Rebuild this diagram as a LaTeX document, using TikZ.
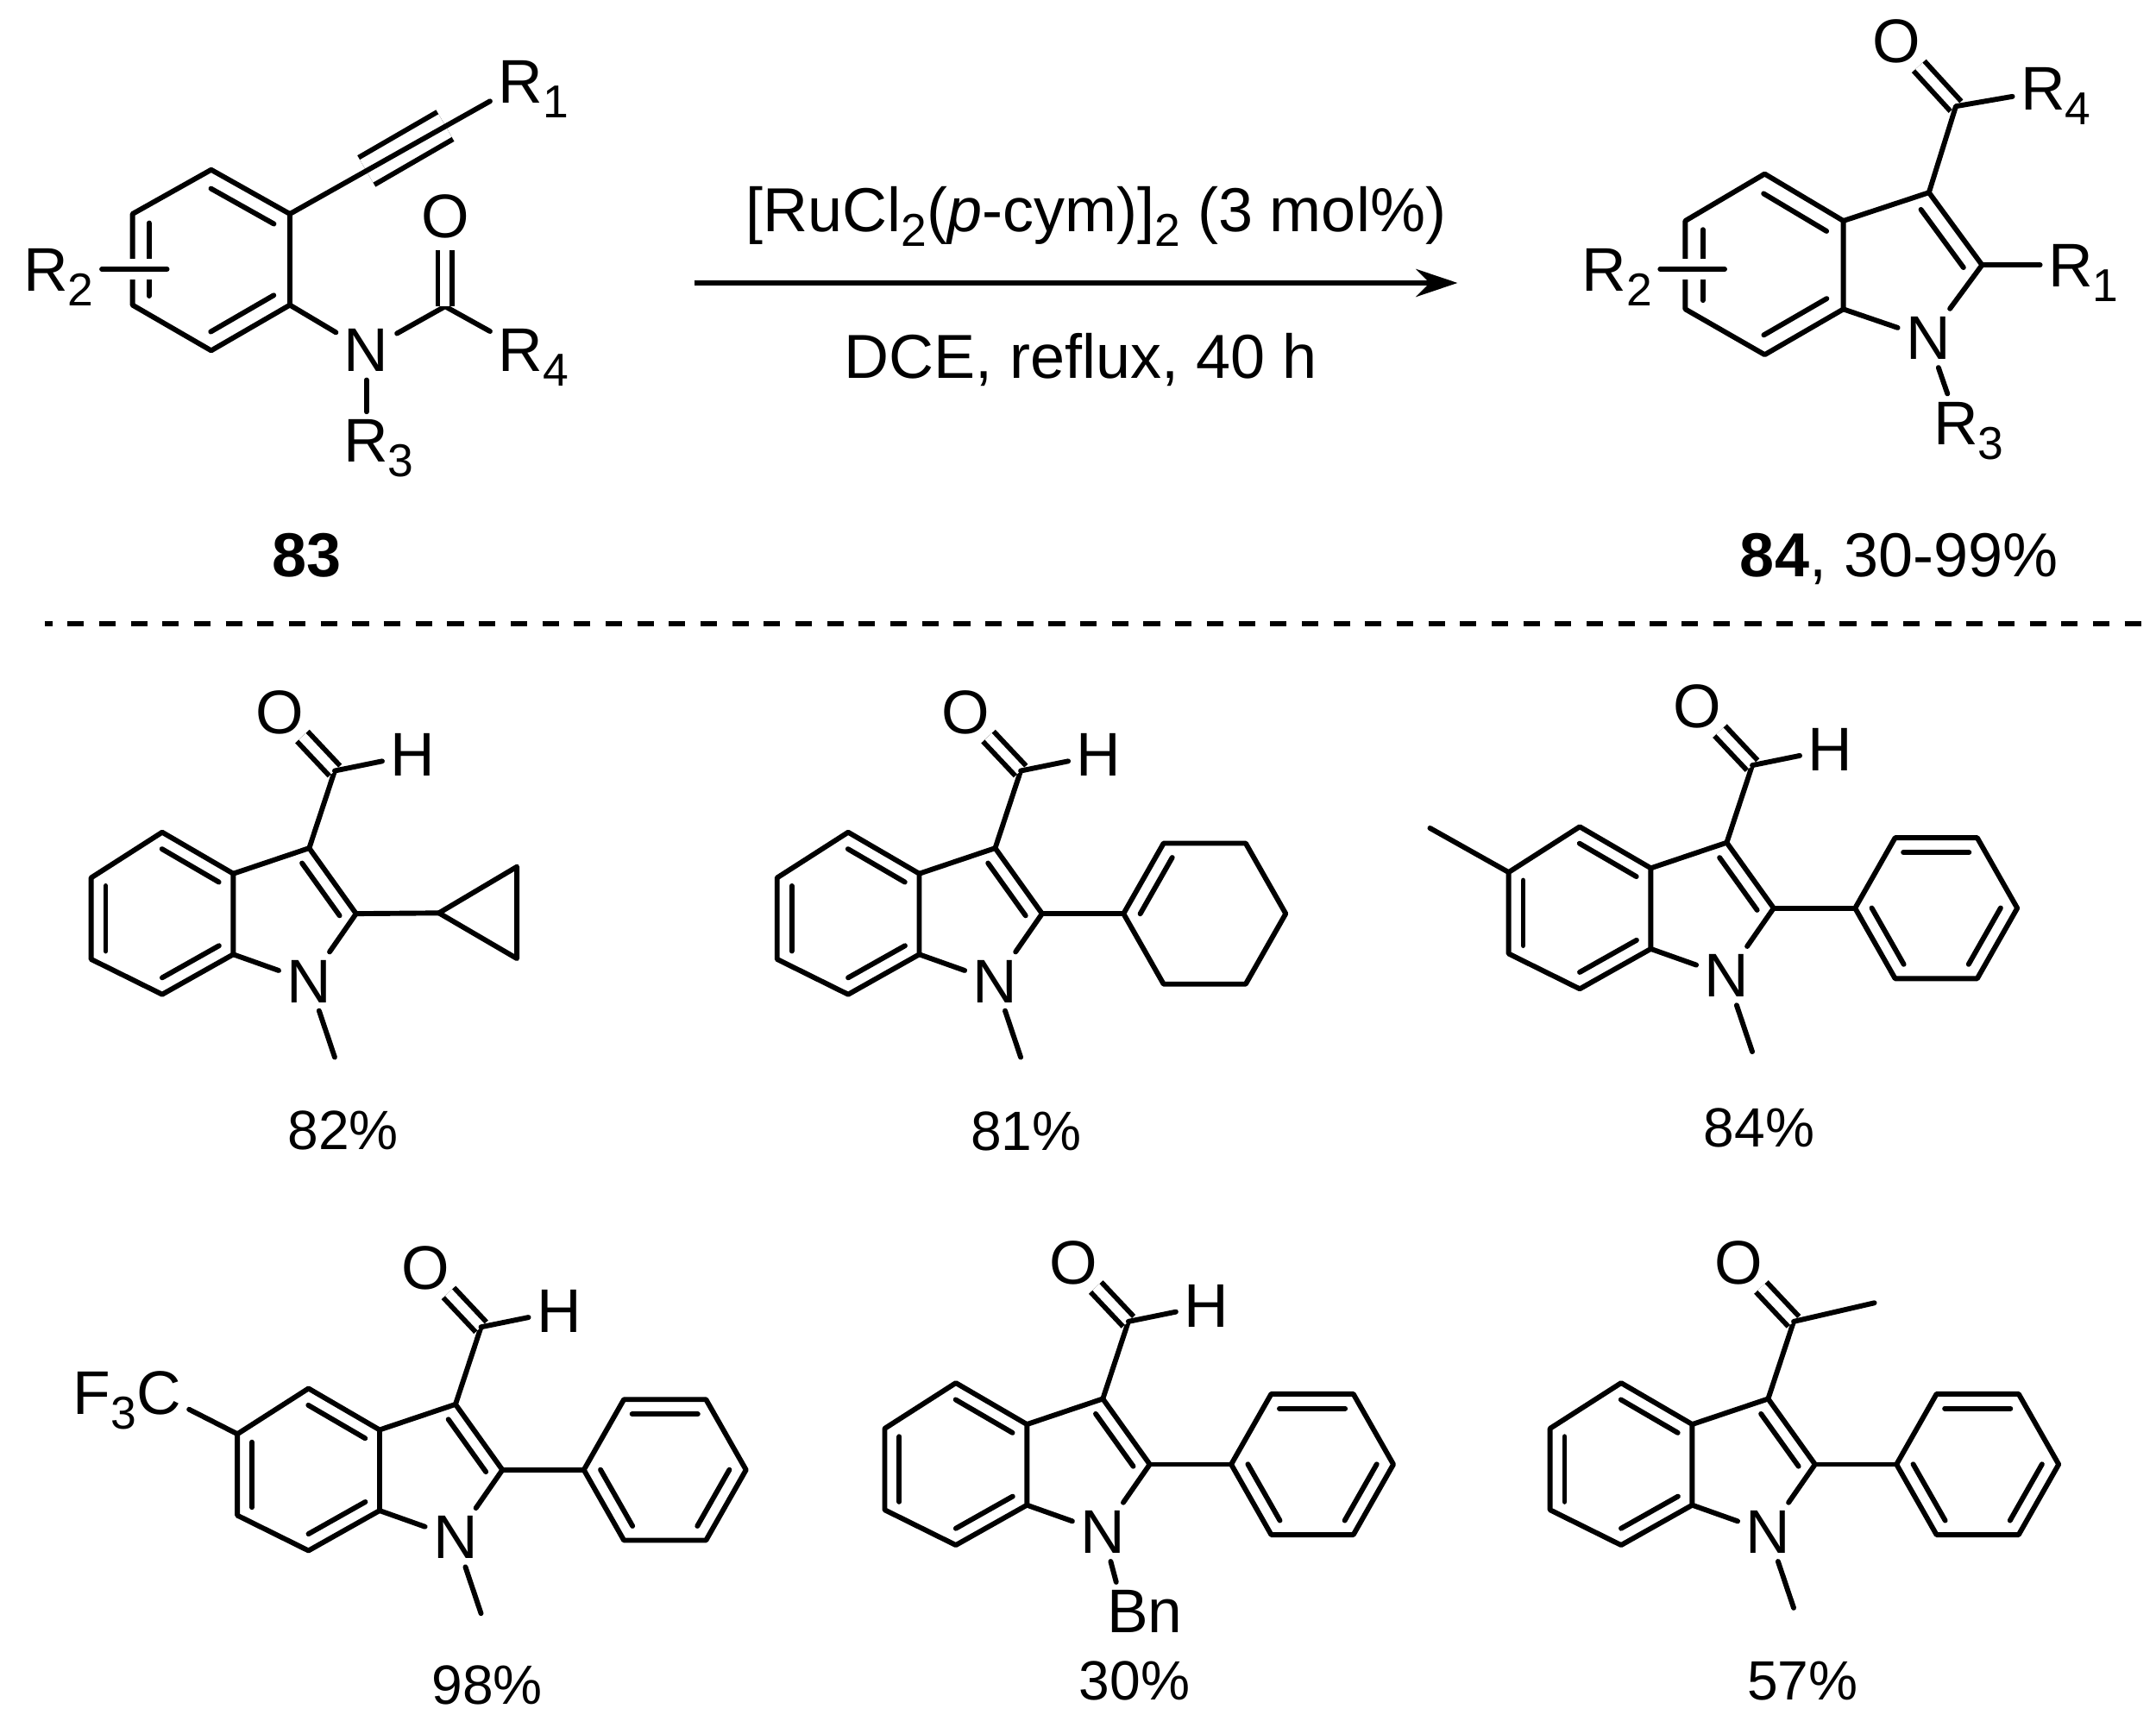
\documentclass[tikz,border=0pt]{standalone}
\usepackage{fontspec}
\setmainfont{Liberation Sans}
\usetikzlibrary{calc,arrows.meta}

\tikzset{
  bond/.style = {line width=1.05pt, line cap=round, line join=round},
  dbl/.style = {line width=1.05pt, double, double distance=1.95pt, line cap=butt},
  knock/.style = {preaction={draw=white, line width=4.3pt, line cap=butt}},
  atom/.style = {inner sep=1.5pt, font=\fontsize{12.7}{14}\selectfont},
  oxy/.style = {circle, inner sep=0pt, font=\fontsize{12.7}{14}\selectfont},
  lab/.style = {inner sep=0pt, font=\fontsize{12.8}{14}\selectfont},
  yield/.style = {inner sep=0pt, font=\fontsize{11.4}{13}\selectfont},
}

\newcommand{\lowsub}[1]{\raisebox{-3pt}{\fontsize{9.5}{10}\selectfont #1}}
% short line on the inner side of a ring bond
\newcommand{\inbond}[3][3pt]{
  \draw[bond] ($(#2)!.1!(#3)!#1!-90:(#3)$) -- ($(#3)!.1!(#2)!#1!90:(#2)$);
}
\newcommand{\ringbonds}{
  \draw[bond] (r1) -- (r2) -- (r3) -- (r4) -- (r5) -- (r6) -- cycle;
  \draw[bond] (r3) -- (n) -- (c2) -- (c3) -- (r2);
}

\begin{document}
\begin{tikzpicture}[x=0.01cm, y=-0.01cm]
  \useasboundingbox (0,0) rectangle (1562,1242);

  % starting material
  \coordinate (s1) at (153,123);
  \coordinate (s2) at (210,155);
  \coordinate (s3) at (210,221);
  \coordinate (s4) at (153,254);
  \coordinate (s5) at (96,221);
  \coordinate (s6) at (96,155);
  \coordinate (yn1) at (265.5,124);
  \coordinate (yn2) at (322.5,91);
  \coordinate (sco) at (322.5,222);
  \coordinate (sarm) at (121,195);
  \node[atom] (sn) at (265.5,254) {N};
  \node[oxy] (so) at (322.5,157) {O};
  \node[atom, anchor=base west] (sr1) at (355,75) {R\lowsub{1}};
  \node[atom, anchor=base west] (sr2) at (11,211) {R\lowsub{2}};
  \node[atom, anchor=base west] (sr3) at (243,335) {R\lowsub{3}};
  \node[atom, anchor=base west] (sr4) at (355,269) {R\lowsub{4}};

  \draw[bond] (s1) -- (s2) -- (s3) -- (s4) -- (s5) -- (s6) -- cycle;
  \inbond[3.4pt]{s1}{s2}
  \inbond[3.4pt]{s3}{s4}
  \inbond[3.4pt]{s5}{s6}
  \draw[bond, knock] (sr2.east |- sarm) -- (sarm);
  \draw[dbl, double distance=5.4pt] (yn1) -- (yn2);
  \draw[bond] (s2) -- (sr1.195);
  \draw[bond] (s3) -- (sn) -- (sco) -- (sr4.149);
  \draw[dbl] (sco) -- (so);
  \draw[bond] (sn) -- (sn |- sr3.north);
  \node[lab, anchor=base] (s83) at (222,418) {\textbf{83}};

  % reaction arrow
  \coordinate (arrow1) at (503,205);
  \coordinate (arrow2) at (1056,205);
  \draw[bond, line cap=butt, -{Stealth[length=3mm, width=2mm]}] (arrow1) -- (arrow2);
  \node[lab, anchor=base] (cat) at (794,168) {[RuCl\lowsub{2}(\textit{p}-cym)]\lowsub{2} (3 mol\%)};
  \node[lab, anchor=base] (cond) at (783,274) {DCE, reflux, 40 h};

  % product
  \begin{scope}[name prefix=p-]
    \coordinate (r1) at (1278.5,126);
    \coordinate (r2) at (1335.5,160);
    \coordinate (r3) at (1335.5,224);
    \coordinate (r4) at (1278.5,257);
    \coordinate (r5) at (1221,224);
    \coordinate (r6) at (1221,160);
    \coordinate (c3) at (1397.5,139.5);
    \coordinate (c2) at (1436,192);
    \coordinate (co) at (1417,77);
    \coordinate (arm) at (1249.5,195);
    \node[atom] (n) at (1397,245) {N};
    \node[oxy] (o) at (1374,30) {O};
    \node[atom, anchor=base west] (pr1) at (1478,208) {R\lowsub{1}};
    \node[atom, anchor=base west] (pr2) at (1140,211) {R\lowsub{2}};
    \node[atom, anchor=base west] (pr3) at (1395,322) {R\lowsub{3}};
    \node[atom, anchor=base west] (pr4) at (1458,80) {R\lowsub{4}};
    \ringbonds
    \inbond[3.6pt]{r1}{r2}
    \inbond[3.6pt]{r3}{r4}
    \inbond[3.6pt]{r5}{r6}
    \inbond[3.4pt]{c3}{c2}
    \draw[bond, knock] (pr2.east |- arm) -- (arm);
    \draw[dbl] (co) -- (o);
    \draw[bond] (c3) -- (co) -- (pr4.west);
    \draw[bond] (c2) -- (c2 -| pr1.west);
    \draw[bond] (n) -- (pr3.120);
  \end{scope}
  \node[lab, anchor=base west] (p84) at (1260,418) {\textbf{84}, 30-99\%};

  % separator
  \coordinate (sep1) at (32.5,452);
  \coordinate (sep2) at (1562,452);
  \draw[line width=0.95pt, dash pattern=on 3.4pt off 3.12pt, dash phase=1.85pt] (sep1) -- (sep2);

  % indole core of the six examples
  \foreach \m/\x/\y in {a/224/711, b/721/711, c/1251/707, d/330/1114, e/799/1110, f/1281/1110} {
    \begin{scope}[shift={(\x,\y)}, name prefix=\m-]
      \coordinate (r1) at (-106.5,-108);
      \coordinate (r2) at (-55,-78);
      \coordinate (r3) at (-55,-19.5);
      \coordinate (r4) at (-106.5,9.5);
      \coordinate (r5) at (-158,-16);
      \coordinate (r6) at (-158,-75);
      \coordinate (c3) at (0,-96.5);
      \coordinate (c2) at (34,-49);
      \coordinate (co) at (18.5,-152.5);
      \node[atom] (n) at (0,0) {N};
      \node[oxy] (o) at (-21.5,-195) {O};
      \ringbonds
      \inbond{r1}{r2}
      \inbond{r3}{r4}
      \inbond{r5}{r6}
      \inbond{c3}{c2}
      \draw[bond] (c3) -- (co);
      \draw[dbl] (co) -- (o);
    \end{scope}
  }

  % formyl hydrogen
  \foreach \m in {a,b,c,d,e} {
    \node[atom] (\m-h) at ($(\m-n)+(75,-164)$) {H};
    \draw[bond] (\m-co) -- (\m-h);
  }

  % N-methyl
  \foreach \m in {a,b,c,d,f} {
    \coordinate (\m-me) at ($(\m-n)+(18.5,55)$);
    \draw[bond] (\m-n) -- (\m-me);
  }

  % six-membered ring on C2
  \foreach \m in {b,c,d,e,f} {
    \begin{scope}[shift={(\m-c2)}, name prefix=\m-]
      \coordinate (q1) at (59,0);
      \coordinate (q2) at (88,-51);
      \coordinate (q3) at (147.5,-51);
      \coordinate (q4) at (176.5,0);
      \coordinate (q5) at (147.5,51);
      \coordinate (q6) at (88,51);
      \draw[bond] (q1) -- (q2) -- (q3) -- (q4) -- (q5) -- (q6) -- cycle;
      \draw[bond] (c2) -- (q1);
    \end{scope}
  }
  \foreach \m in {c,d,e,f} {
    \begin{scope}[name prefix=\m-]
      \inbond{q2}{q3}
      \inbond{q4}{q5}
      \inbond{q6}{q1}
    \end{scope}
  }
  \inbond{b-q1}{b-q2}

  % cyclopropyl
  \coordinate (a-q1) at (318,661.5);
  \coordinate (a-q2) at (374.5,628);
  \coordinate (a-q3) at (374.5,694.5);
  \draw[bond] (a-c2) -- (a-q1);
  \draw[bond] (a-q1) -- (a-q2) -- (a-q3) -- cycle;

  % other substituents
  \coordinate (c-me5) at ($(c-r6)+(-57,-32)$);
  \draw[bond] (c-r6) -- (c-me5);
  \node[atom, anchor=base east] (d-cf3) at (137,1025) {F\lowsub{3}C};
  \draw[bond] (d-r6) -- (d-cf3.-8);
  \node[atom, anchor=base west] (e-bn) at (796,1183) {Bn};
  \draw[bond] (e-n) -- (e-bn.134);
  \coordinate (f-ac) at (1358,944);
  \draw[bond] (f-co) -- (f-ac);

  % yields
  \node[yield] (a-yield) at (248.5,819) {82\%};
  \node[yield] (b-yield) at (743.5,820) {81\%};
  \node[yield] (c-yield) at (1274.5,817) {84\%};
  \node[yield] (d-yield) at (353,1221) {98\%};
  \node[yield] (e-yield) at (822,1218) {30\%};
  \node[yield] (f-yield) at (1306,1218) {57\%};
\end{tikzpicture}
\end{document}
